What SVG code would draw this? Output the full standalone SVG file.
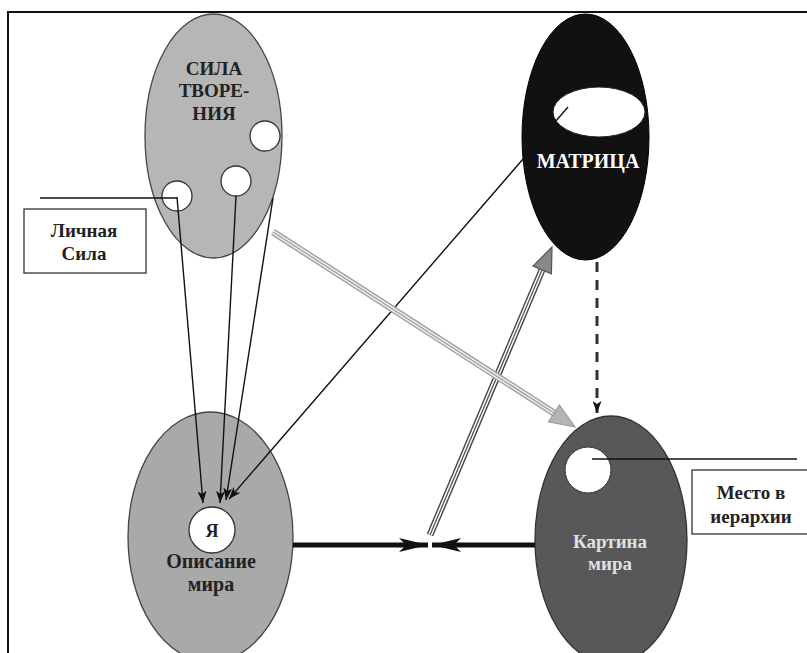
<svg xmlns="http://www.w3.org/2000/svg" width="807" height="653" viewBox="0 0 807 653">
<style>
text{font-family:"Liberation Serif","Times New Roman",serif;font-weight:bold;text-anchor:middle;}
.thin{stroke:#111;stroke-width:1.4;fill:none;}
.lbl{fill:#222;font-size:19px;}
.box{fill:#fff;stroke:#333;stroke-width:1.3;}
.hole{fill:#fff;stroke:#333;stroke-width:1.3;}
</style>
<defs>
<marker id="ah" markerUnits="userSpaceOnUse" markerWidth="13" markerHeight="9" refX="12" refY="4.5" orient="auto">
<path d="M0,0 L12,4.5 L0,9 L3,4.5 z" fill="#111"/>
</marker>
<marker id="ahThick" markerUnits="userSpaceOnUse" markerWidth="30" markerHeight="14" refX="29" refY="7" orient="auto">
<path d="M0,0 L29,7 L0,14 L7,7 z" fill="#111"/>
</marker>
</defs>
<rect width="807" height="653" fill="#fff"/>
<path d="M8,653 L8,12 L807,12" fill="none" stroke="#111" stroke-width="2"/>

<g id="sila">
<ellipse cx="213.5" cy="136" rx="68.5" ry="122" fill="#b6b6b6" stroke="#444" stroke-width="1.3"/>
<text x="214" y="75" font-size="19" fill="#222">СИЛА</text>
<text x="214" y="97" font-size="19" fill="#222">ТВОРЕ-</text>
<text x="214" y="120" font-size="19" fill="#222">НИЯ</text>
<circle cx="265" cy="136" r="15" class="hole"/>
<circle cx="236" cy="181" r="15" class="hole"/>
<circle cx="177" cy="196" r="15" class="hole"/>
</g>

<g id="lichnaya-sila">
<rect x="24" y="209" width="122" height="64" class="box"/>
<text x="84" y="237" class="lbl">Личная</text>
<text x="84" y="260" class="lbl">Сила</text>
</g>

<g id="matrica">
<ellipse cx="585.5" cy="137" rx="63.5" ry="123" fill="#111" stroke="#000" stroke-width="1"/>
<ellipse cx="599" cy="112" rx="46" ry="25" fill="#fff" stroke="#222" stroke-width="1"/>
<text x="588" y="168" font-size="20" fill="#fff">МАТРИЦА</text>
</g>

<g id="opisanie">
<ellipse cx="210.5" cy="537" rx="82.5" ry="125" fill="#a9a9a9" stroke="#444" stroke-width="1.3"/>
<circle cx="212" cy="530" r="23" class="hole"/>
<text x="212" y="537" font-size="18" fill="#222">Я</text>
<text x="211" y="568" font-size="20" fill="#222">Описание</text>
<text x="211" y="591" font-size="20" fill="#222">мира</text>
</g>

<g id="kartina">
<ellipse cx="611" cy="540" rx="76" ry="124" fill="#585858" stroke="#333" stroke-width="1.3"/>
<circle cx="588" cy="470" r="23" fill="#fff" stroke="#333" stroke-width="1"/>
<text x="610" y="548" font-size="19" fill="#e0e0e0">Картина</text>
<text x="610" y="570" font-size="19" fill="#e0e0e0">мира</text>
</g>

<g id="mesto">
<rect x="692" y="470" width="120" height="64" class="box"/>
<text x="751" y="499" class="lbl">Место в</text>
<text x="751" y="523" class="lbl">иерархии</text>
</g>

<g id="connectors">
<line x1="40" y1="198" x2="177" y2="198" class="thin"/>
<line x1="592" y1="459" x2="797" y2="459" class="thin"/>
<line x1="177" y1="197" x2="203" y2="503" class="thin" marker-end="url(#ah)"/>
<line x1="236" y1="196" x2="220" y2="503" class="thin" marker-end="url(#ah)"/>
<line x1="273" y1="198" x2="226" y2="500" class="thin" marker-end="url(#ah)"/>
<line x1="568" y1="107" x2="229" y2="499" class="thin" marker-end="url(#ah)"/>
<line x1="597" y1="262" x2="597" y2="413" stroke="#333" stroke-width="3" stroke-dasharray="10 8" marker-end="url(#ah)"/>
<line x1="293" y1="545" x2="428" y2="545" stroke="#111" stroke-width="5" marker-end="url(#ahThick)"/>
<line x1="535" y1="545" x2="432" y2="545" stroke="#111" stroke-width="5" marker-end="url(#ahThick)"/>
<g id="triple-up">
<line x1="430" y1="535" x2="542" y2="270" stroke="#444" stroke-width="7"/>
<line x1="430" y1="535" x2="542" y2="270" stroke="#fff" stroke-width="4.2"/>
<line x1="430" y1="535" x2="542" y2="270" stroke="#555" stroke-width="1.3"/>
<polygon points="552,247 551.4,273.9 533,266.1" fill="#888" stroke="#555" stroke-width="1.2"/>
</g>
<g id="triple-down">
<line x1="273" y1="232" x2="554" y2="413" stroke="#a0a0a0" stroke-width="7"/>
<line x1="273" y1="232" x2="554" y2="413" stroke="#eee" stroke-width="4.2"/>
<line x1="273" y1="232" x2="554" y2="413" stroke="#a0a0a0" stroke-width="1.3"/>
<polygon points="575,427 548.6,421.8 559.4,405" fill="#b5b5b5" stroke="#9a9a9a" stroke-width="1.2"/>
</g>
</g>
</svg>
